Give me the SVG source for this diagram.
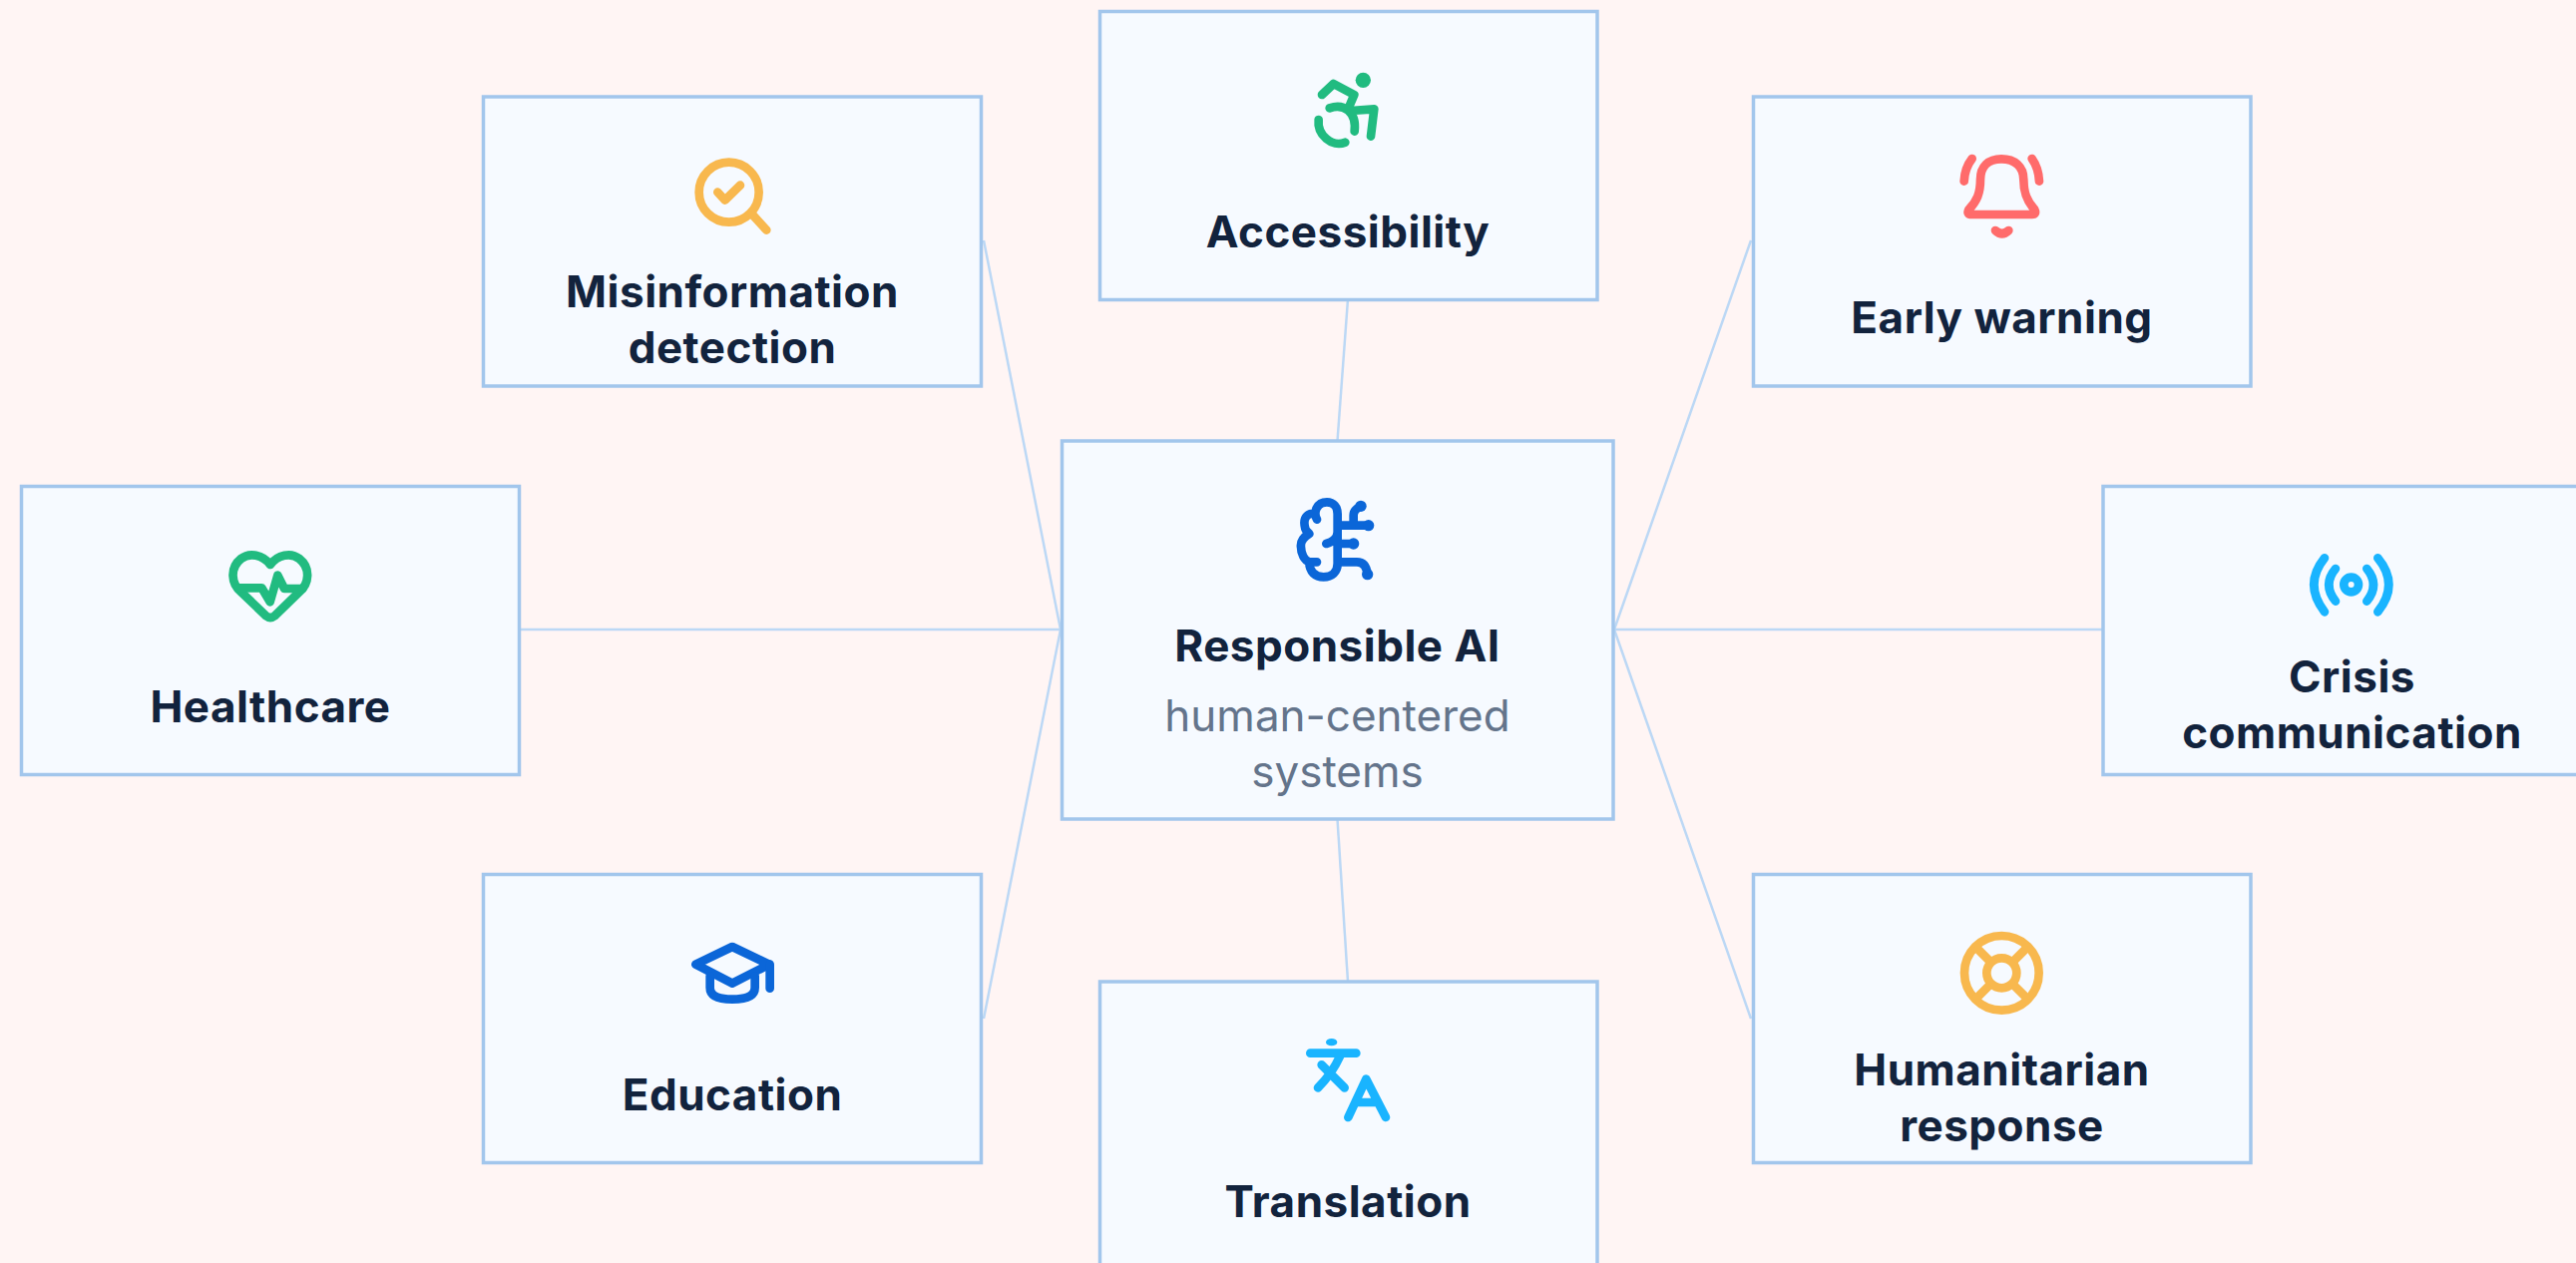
<svg xmlns="http://www.w3.org/2000/svg" width="2582" height="1266" viewBox="0 0 2582 1266">
<style>
.box{fill:#f6faff;stroke:#a2c6ec;stroke-width:3.500}
.t{font-family:Inter,"Liberation Sans",sans-serif;font-size:44px;font-weight:700;letter-spacing:.5px;fill:#12233d;text-anchor:middle}
.s{font-family:Inter,"Liberation Sans",sans-serif;font-size:44px;font-weight:400;fill:#64748b;text-anchor:middle}
.c line{stroke:#bcd8f5;stroke-width:2.500}
.i{fill:none;stroke-width:26;stroke-linecap:round;stroke-linejoin:round}
.blue{stroke:#0b66d8}.orange{stroke:#f8b84e}.green{stroke:#21bb80}.red{stroke:#ff6b6b}.cyan{stroke:#19b4ff}
</style>
<rect width="2582" height="1266" fill="#fff5f4"/>
<g id="connectors" class="c">
<line x1="986" y1="241" x2="1063" y2="631"/>
<line x1="520" y1="631" x2="1064" y2="631"/>
<line x1="986" y1="1021" x2="1063" y2="631"/>
<line x1="1618" y1="631" x2="1755" y2="241"/>
<line x1="1617" y1="631" x2="2108" y2="631"/>
<line x1="1618" y1="631" x2="1755" y2="1021"/>
<line x1="1351" y1="300" x2="1340.5" y2="442"/>
<line x1="1340.5" y1="821" x2="1351" y2="984"/>
</g>
<g id="node-center">
<rect class="box" x="1064.500" y="442" width="552.500" height="379"/>
<g class="i blue" transform="translate(1280,480) scale(.3333)">
<path d="M120,122 C108,100 120,70 150,70 C170,70 182,85 182,105 V255 C182,280 165,295 140,295 C115,295 97,280 97,250 H120 M100,105 C85,110 78,125 85,150 C88,160 95,160 97,165 C80,175 70,190 72,205 C72,225 82,245 97,250 M148,195 C165,190 182,180 182,160 M182,140 H275 M230,140 V110 Q230,92 252,82 M182,195 H230 M182,250 H240 Q268,250 272,287"/>
<g fill="#0b66d8" stroke="none"><circle cx="252" cy="82" r="17"/><circle cx="275" cy="140" r="17"/><circle cx="230" cy="195" r="17"/><circle cx="272" cy="287" r="17"/></g>
</g>
<text class="t" x="1340.5" y="663">Responsible AI</text>
<text class="s" x="1340.5" y="733">human-centered</text>
<text class="s" x="1340.5" y="789">systems</text>
</g>
<g id="node-misinformation">
<rect class="box" x="484.500" y="97" width="499" height="290"/>
<g class="i orange" transform="translate(670,140) scale(.3333)">
<circle cx="182" cy="158" r="90"/><path d="M148,158 L170,182 L216,137 M255,228 L295,272"/>
</g>
<text class="t" x="734" y="308">Misinformation</text>
<text class="t" x="734" y="364">detection</text>
</g>
<g id="node-accessibility">
<rect class="box" x="1102.500" y="11.500" width="498.500" height="289"/>
<g class="i green" transform="translate(1280,40) scale(.3333)">
<circle cx="259" cy="121" r="23" fill="#21bb80" stroke="none"/>
<path d="M135,165 L170,132 L232,165 L215,205 M222,213 L292,208 L282,290 M158,205 C200,190 240,215 233,275 M125,240 C120,285 165,325 205,308"/>
</g>
<text class="t" x="1351" y="248">Accessibility</text>
</g>
<g id="node-early-warning">
<rect class="box" x="1757.500" y="97" width="498.500" height="290"/>
<g class="i red" transform="translate(1930,130) scale(.3333)">
<path d="M165,150 C165,110 190,88 228,88 C268,88 295,110 295,150 C295,190 305,215 328,240 Q335,255 320,255 H140 Q122,255 130,240 C155,215 165,190 165,150 Z"/>
<path d="M210,303 Q230,322 250,303 M116,155 Q118,115 140,87 M342,155 Q340,115 320,87"/>
</g>
<text class="t" x="2006.500" y="334">Early warning</text>
</g>
<g id="node-crisis">
<rect class="box" x="2108" y="487.500" width="499" height="289"/>
<g class="i cyan" transform="translate(2280,530) scale(.3333)">
<circle cx="230" cy="168" r="22"/>
<path d="M183,120 Q143,168 183,218 M277,120 Q317,168 277,218 M150,88 Q86,168 150,250 M310,88 Q376,168 310,250"/>
</g>
<text class="t" x="2357.500" y="694">Crisis</text>
<text class="t" x="2357.500" y="750">communication</text>
</g>
<g id="node-healthcare">
<rect class="box" x="21.500" y="487.500" width="499" height="289"/>
<g class="i green" transform="translate(200,530) scale(.3333)">
<path d="M213,108 C190,78 150,70 125,90 C90,118 95,165 125,190 L200,262 Q213,272 226,262 L300,190 C330,165 335,118 300,90 C275,70 235,78 213,108 Z"/>
<path d="M120,178 H187 L212,220 L235,140 L255,180 H310"/>
</g>
<text class="t" x="271" y="724">Healthcare</text>
</g>
<g id="node-education">
<rect class="box" x="484.500" y="876.500" width="499" height="289"/>
<g class="i blue" transform="translate(670,930) scale(.3333)">
<path d="M192,57 L303,110 L192,167 L82,110 Z"/>
<path d="M125,145 V180 Q125,215 192,215 Q260,215 260,180 V145 M305,110 V182"/>
</g>
<text class="t" x="734" y="1113">Education</text>
</g>
<g id="node-humanitarian">
<rect class="box" x="1757.500" y="876.500" width="498.500" height="289"/>
<g class="i orange" transform="translate(1930,920) scale(.3333)">
<circle cx="229" cy="166" r="112"/><circle cx="229" cy="166" r="45"/>
<path style="stroke-linecap:butt" d="M194,131 L149,86 M264,131 L309,86 M194,201 L149,246 M264,201 L309,246"/>
</g>
<text class="t" x="2006.500" y="1088">Humanitarian</text>
<text class="t" x="2006.500" y="1144">response</text>
</g>
<g id="node-translation">
<rect class="box" x="1102.500" y="984" width="498.500" height="290"/>
<g class="i cyan" transform="translate(1280,1030) scale(.3333)">
<ellipse cx="164" cy="44" rx="17" ry="11" fill="#19b4ff" stroke="none"/>
<path d="M100,77 H238 M190,85 Q165,140 123,181 M134,112 L203,181 M214,270 L268,155 L327,270 M240,225 H300"/>
</g>
<text class="t" x="1351" y="1220">Translation</text>
</g>
</svg>
